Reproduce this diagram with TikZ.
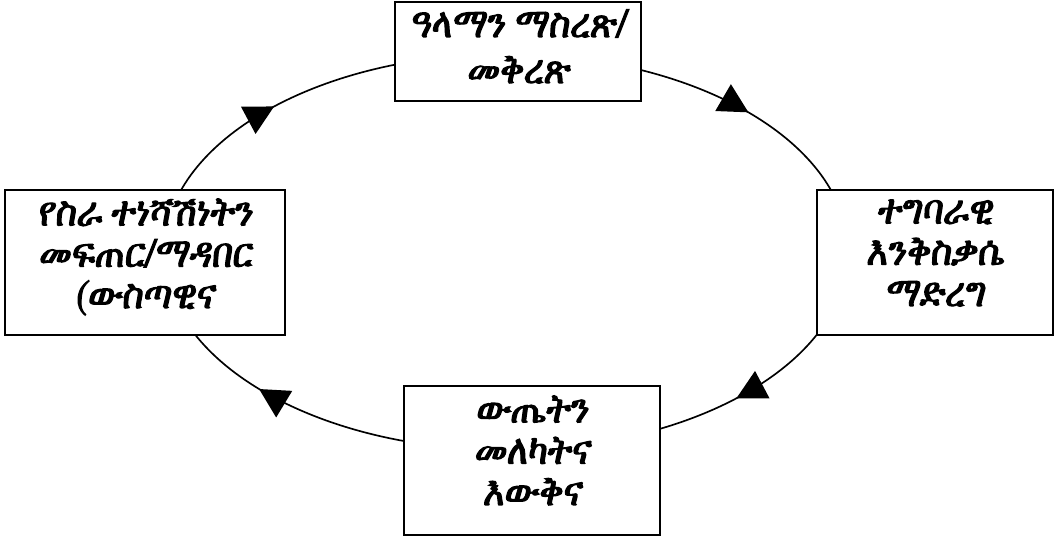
\documentclass[tikz,border=0pt]{standalone}
\usepackage{fontspec}
\newfontfamily\ethfont[FakeBold=3,FakeSlant=0.1,FakeStretch=0.88]{FreeSerif}
\usetikzlibrary{arrows.meta,decorations.markings,backgrounds}

\begin{document}
\begin{tikzpicture}[
  x=0.75pt, y=-0.75pt,
  box/.style={draw, line width=1.4pt, fill=white, inner sep=0pt},
  txt/.style={font=\ethfont\fontsize{30.5}{31}\selectfont, align=center,
              anchor=base, inner sep=0pt},
  cyc/.style={line width=1.25pt, postaction={decorate},
    decoration={markings,
      mark=at position 0.112 with {\arrow{Triangle[length=22pt,width=23pt]}},
      mark=at position 0.399 with {\arrow{Triangle[length=22pt,width=23pt]}},
      mark=at position 0.611 with {\arrow{Triangle[length=22pt,width=23pt]}},
      mark=at position 0.896 with {\arrow{Triangle[length=22pt,width=23pt]}}}},
]
  \useasboundingbox (0,0) rectangle (1054,539);

  %% Boxes
  \node[box, minimum width=246*0.75pt, minimum height=99*0.75pt]  (goal) at (518,51.5) {};
  \node[box, minimum width=236*0.75pt, minimum height=145*0.75pt] (act)  at (935,262.5) {};
  \node[box, minimum width=256*0.75pt, minimum height=149*0.75pt] (res)  at (532,460.5) {};
  \node[box, minimum width=280*0.75pt, minimum height=145*0.75pt] (mot)  at (145,262.5) {};

  %% Texts (placed at the baseline of their last line)
  \node[txt, font=\ethfont\fontsize{30.5}{34.5}\selectfont] (goal-t) at (518,83) {ዓላማን ማስረጽ/\\መቅረጽ};
  \node[txt] (act-t)  at (935,306) {ተግባራዊ\\እንቅስቃሴ\\ማድረግ};
  \node[txt] (res-t)  at (532,505) {ውጤትን\\መለካትና\\እውቅና};
  \node[txt] (mot-t)  at (145,308) {የስራ ተነሻሽነትን\\መፍጠር/ማዳበር\\(ውስጣዊና};

  %% Cycle behind the boxes
  \coordinate (c) at (506,252);
  \begin{scope}[on background layer]
    \draw[cyc] ([xshift=342*0.75pt]c) arc[start angle=0, end angle=360,
                                          x radius=342, y radius=198];
  \end{scope}
\end{tikzpicture}
\end{document}
